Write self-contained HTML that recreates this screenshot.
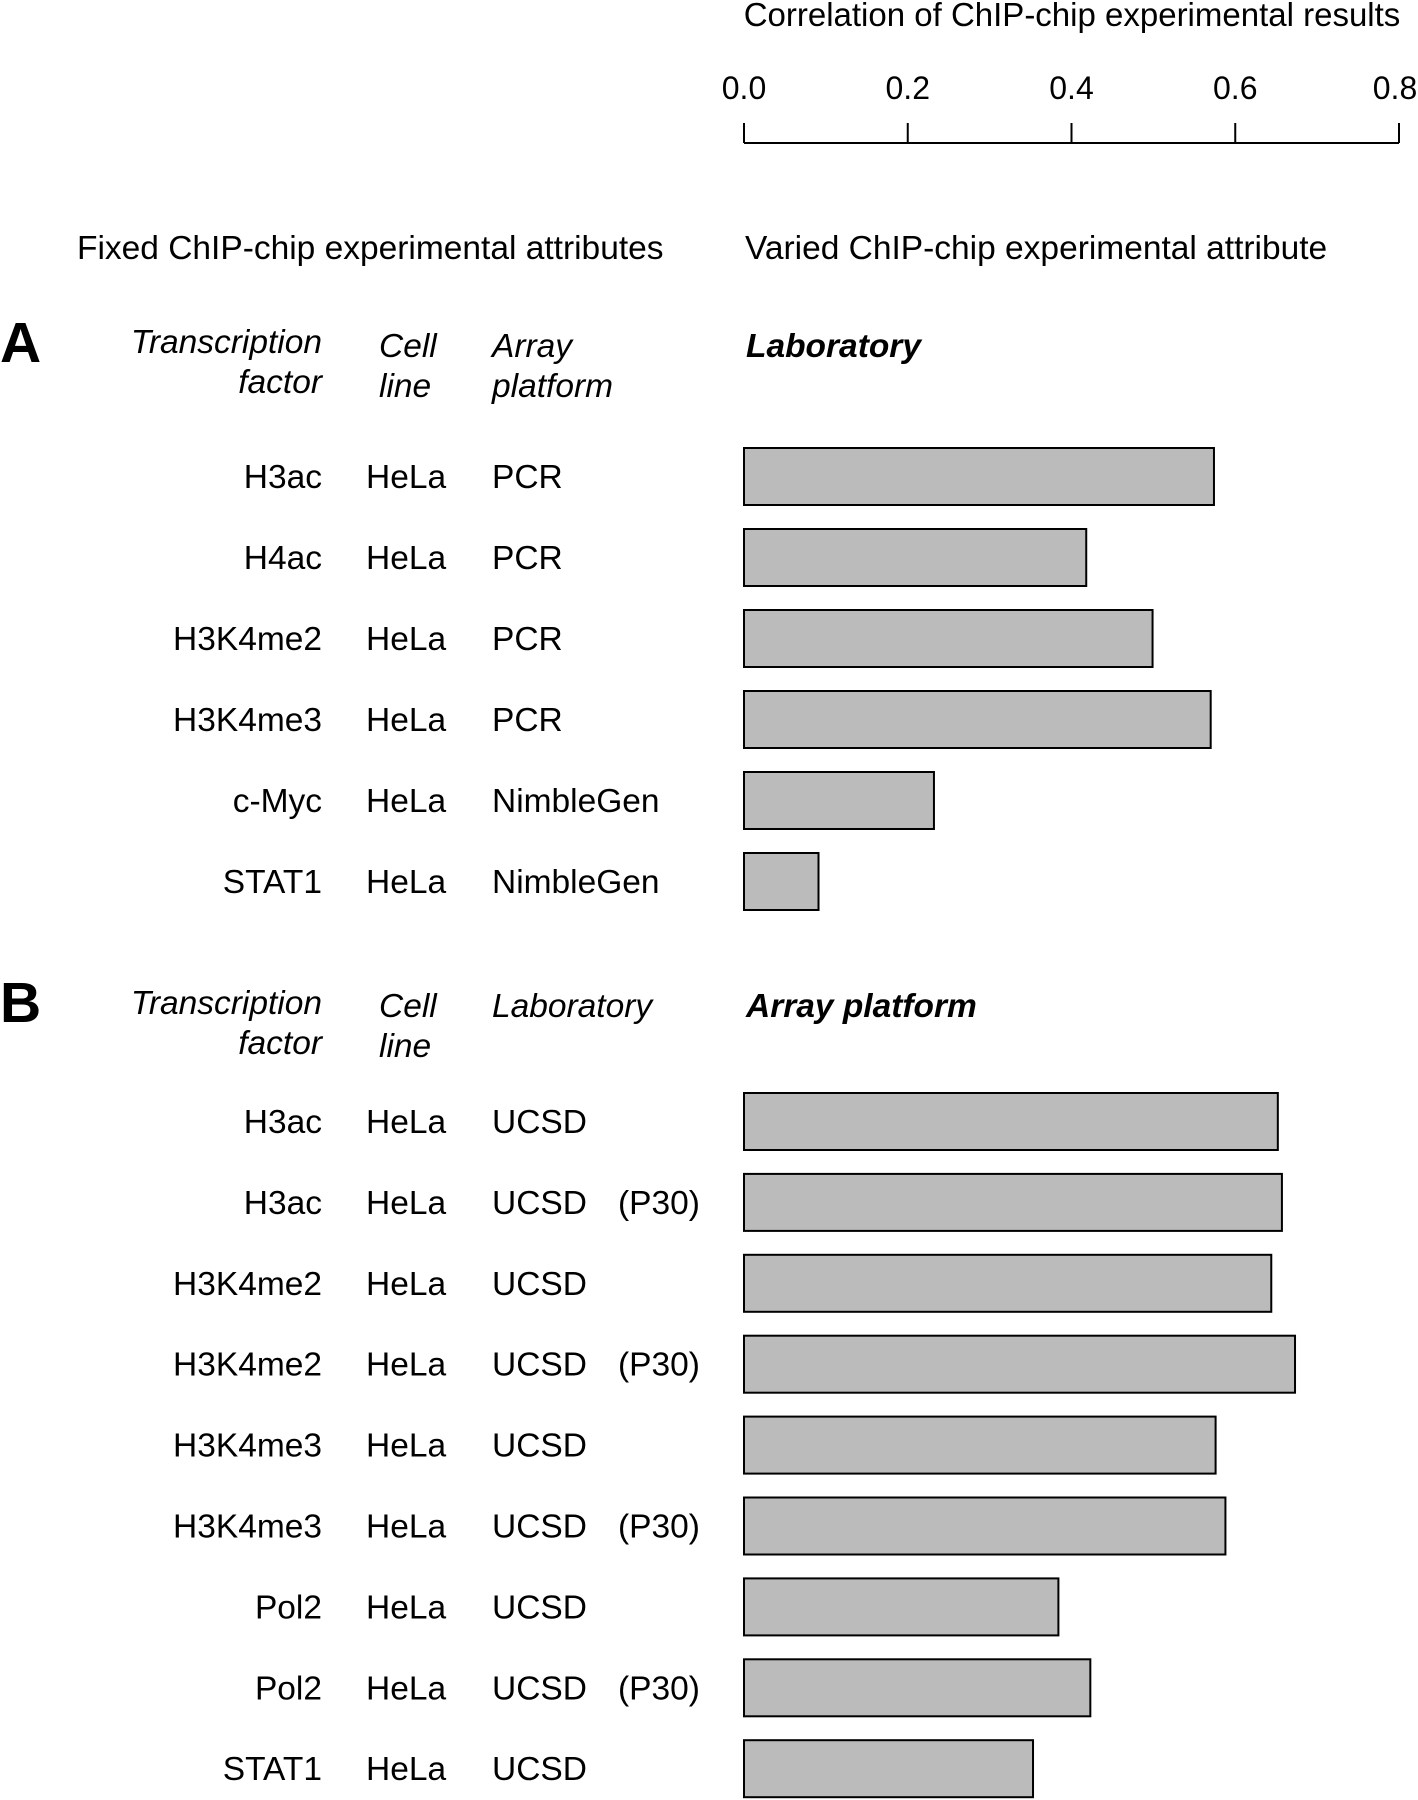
<!DOCTYPE html>
<html><head><meta charset="utf-8"><style>
body{margin:0;background:#fff;}
svg{display:block;font-family:"Liberation Sans",Arial,sans-serif;}
</style></head><body>
<svg id="chart" width="1418" height="1800" viewBox="0 0 1418 1800">
<text x="1072" y="26" font-size="33" text-anchor="middle">Correlation of ChIP-chip experimental results</text>
<g id="axis"></g>
<text x="77" y="259" font-size="33.5">Fixed ChIP-chip experimental attributes</text>
<text x="745" y="259" font-size="33.5">Varied ChIP-chip experimental attribute</text>
<text x="0" y="362" font-size="57" font-weight="bold">A</text>
<text x="322" y="353" font-size="33.5" font-style="italic" text-anchor="end">Transcription</text>
<text x="322" y="393" font-size="33.5" font-style="italic" text-anchor="end">factor</text>
<text x="379" y="357" font-size="33.5" font-style="italic">Cell</text>
<text x="379" y="397" font-size="33.5" font-style="italic">line</text>
<text x="492" y="357" font-size="33.5" font-style="italic">Array</text>
<text x="492" y="397" font-size="33.5" font-style="italic">platform</text>
<text x="746" y="357" font-size="33.5" font-style="italic" font-weight="bold">Laboratory</text>
<text x="0" y="1022" font-size="57" font-weight="bold">B</text>
<text x="322" y="1014" font-size="33.5" font-style="italic" text-anchor="end">Transcription</text>
<text x="322" y="1054" font-size="33.5" font-style="italic" text-anchor="end">factor</text>
<text x="379" y="1017" font-size="33.5" font-style="italic">Cell</text>
<text x="379" y="1057" font-size="33.5" font-style="italic">line</text>
<text x="492" y="1017" font-size="33.5" font-style="italic">Laboratory</text>
<text x="746" y="1017" font-size="33.5" font-style="italic" font-weight="bold">Array platform</text>
<g id="rows"></g>
</svg>
<script>
const ticks=[0,0.2,0.4,0.6,0.8];
const tickLabels=["0.0","0.2","0.4","0.6","0.8"];
const aFactors=["H3ac","H4ac","H3K4me2","H3K4me3","c-Myc","STAT1"];
const aCells=["HeLa","HeLa","HeLa","HeLa","HeLa","HeLa"];
const aPlatforms=["PCR","PCR","PCR","PCR","NimbleGen","NimbleGen"];
const aValues=[0.574,0.418,0.499,0.570,0.232,0.091];
const bFactors=["H3ac","H3ac","H3K4me2","H3K4me2","H3K4me3","H3K4me3","Pol2","Pol2","STAT1"];
const bCells=["HeLa","HeLa","HeLa","HeLa","HeLa","HeLa","HeLa","HeLa","HeLa"];
const bLabs=["UCSD","UCSD","UCSD","UCSD","UCSD","UCSD","UCSD","UCSD","UCSD"];
const bNotes=["","(P30)","","(P30)","","(P30)","","(P30)",""];
const bValues=[0.652,0.657,0.644,0.673,0.576,0.588,0.384,0.423,0.353];

const NS="http://www.w3.org/2000/svg";
const X0=744,X1=1399;
const FS=33.5;
const x=v=>X0+(X1-X0)*v/0.8;
const axis=document.getElementById('axis');
const rows=document.getElementById('rows');
function mk(tag,attrs,parent,txt){const e=document.createElementNS(NS,tag);for(const k in attrs)e.setAttribute(k,attrs[k]);if(txt!==undefined)e.textContent=txt;parent.appendChild(e);return e;}
let l=mk('line',{x1:x(0),x2:x(0.8),y1:143,y2:143,stroke:'#000','stroke-width':2},axis);


ticks.forEach((t,i)=>{
  const tk=mk('line',{x1:x(t),x2:x(t),y1:123,y2:143,stroke:'#000','stroke-width':2},axis);
  
  
  const tl=mk('text',{x:Math.min(x(t),1395),y:99,'font-size':32,'text-anchor':'middle'},axis,tickLabels[i]);
  
  
});
function rowsFor(yStart,step,f,c,p,notes,vals,prefix){
  f.forEach((name,i)=>{
    const cy=yStart+i*step;
    const t1=mk('text',{x:322,y:cy+12,'font-size':FS,'text-anchor':'end'},rows,name);
    
    
    const t2=mk('text',{x:366,y:cy+12,'font-size':FS},rows,c[i]);
    
    
    const t3=mk('text',{x:492,y:cy+12,'font-size':FS},rows,p[i]);
    
    
    if(notes&&notes[i]){
      const t4=mk('text',{x:618,y:cy+12,'font-size':FS},rows,notes[i]);
      
      
    }
    const r=mk('rect',{x:x(0),y:cy-28,width:x(vals[i])-x(0),height:57,fill:'#bbbbbb',stroke:'#000','stroke-width':2},rows);
    
    
  });
}
rowsFor(476,81,aFactors,aCells,aPlatforms,null,aValues,'panel-a');
rowsFor(1121,80.9,bFactors,bCells,bLabs,bNotes,bValues,'panel-b');
</script>
</body></html>
